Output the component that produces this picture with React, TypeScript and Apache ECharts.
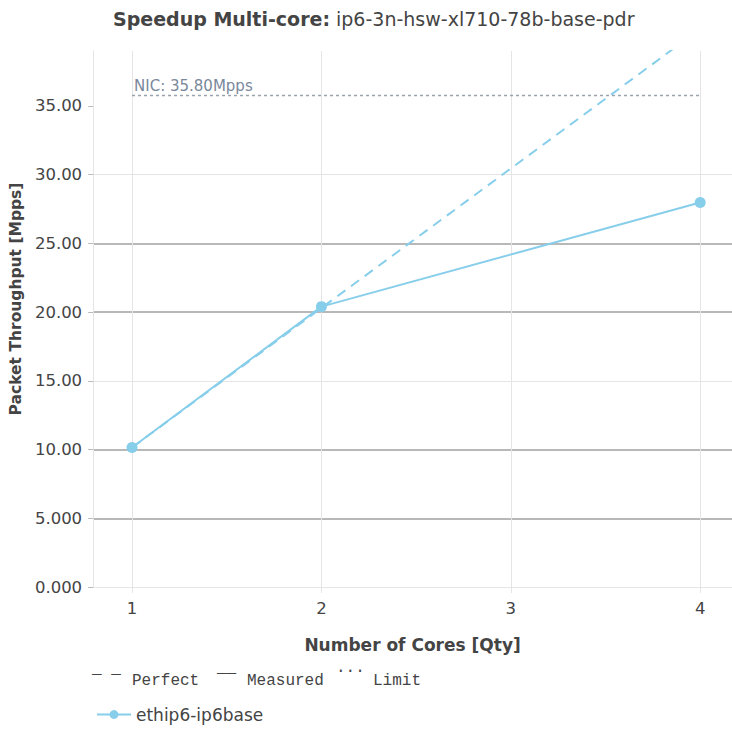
import React, { useEffect, useRef } from "react";
import * as echarts from "echarts";

const cores = [1, 2, 4];
const measured = [10.15, 20.4, 27.98];
const perfectCores = [1, 2, 3, 4];
const perfect = [10.15, 20.3, 30.45, 40.6];
const nicLimit = 35.8;
const yTicks = [0, 5, 10, 15, 20, 25, 30, 35];
const xTicks = [1, 2, 3, 4];
const seriesName = "ethip6-ip6base";

const COLOR = "#87CEEB";
const FONT = "DejaVu Sans, sans-serif";
const MONO = "Liberation Mono, monospace";

export default function App() {
  const ref = useRef<HTMLDivElement>(null);
  useEffect(() => {
    if (!ref.current) return;
    const chart = echarts.init(ref.current, null, { renderer: "svg" });
    const yFmt = (v: number) => Number(v).toPrecision(4);
    const yCommon = {
      type: "value",
      min: 0,
      max: 39,
      interval: 5,
    };
    chart.setOption({
      animation: false,
      backgroundColor: "#ffffff",
      textStyle: { fontFamily: FONT },
      title: {
        text: "{b|Speedup Multi-core:} {n|ip6-3n-hsw-xl710-78b-base-pdr}",
        left: 108,
        top: 4,
        textStyle: {
          fontWeight: "normal",
          fontSize: 19,
          rich: {
            b: { fontFamily: FONT, fontSize: 19, fontWeight: "bold", color: "#444" },
            n: { fontFamily: FONT, fontSize: 19, fontWeight: "normal", color: "#444" },
          },
        },
      },
      grid: { left: 91, right: 0, top: 51, bottom: 144, containLabel: false },
      legend: {
        data: [seriesName],
        left: 91,
        top: 701,
        itemWidth: 34,
        itemHeight: 11,
        itemGap: 5,
        textStyle: { fontFamily: FONT, fontSize: 17, color: "#444" },
      },
      xAxis: {
        type: "value",
        min: 0.7947,
        max: 4.168,
        name: "Number of Cores [Qty]",
        nameLocation: "middle",
        nameGap: 49,
        nameTextStyle: { fontFamily: FONT, fontSize: 17, fontWeight: "bold", color: "#444" },
        axisLine: { show: false },
        axisTick: { show: true, customValues: xTicks, length: 6, lineStyle: { color: "#e5e5e5" } },
        axisLabel: {
          customValues: xTicks,
          margin: 13,
          fontFamily: FONT,
          fontSize: 16.5,
          color: "#444",
        },
        splitLine: { show: true, lineStyle: { color: "#e5e5e5", width: 1 } },
      },
      yAxis: [
        {
          ...yCommon,
          name: "Packet Throughput [Mpps]",
          nameLocation: "middle",
          nameGap: 64,
          nameTextStyle: {
            fontFamily: FONT,
            fontSize: 15.5,
            fontWeight: "bold",
            color: "#444",
            padding: [0, 0, 0, 40],
          },
          axisLine: { show: true, lineStyle: { color: "#e5e5e5" } },
          axisTick: { show: true, customValues: yTicks, length: 5, lineStyle: { color: "#bbbbbb" } },
          axisLabel: {
            customValues: yTicks,
            margin: 11,
            formatter: yFmt,
            fontFamily: FONT,
            fontSize: 16.5,
            color: "#444",
          },
          splitLine: { show: true, showMaxLine: false, lineStyle: { color: "#e5e5e5", width: 1 } },
        },
        {
          ...yCommon,
          position: "left",
          axisLine: { show: false },
          axisTick: { show: false, customValues: yTicks },
          axisLabel: { show: false, customValues: yTicks },
          splitLine: {
            show: true,
            showMinLine: false,
            showMaxLine: false,
            lineStyle: { color: ["#b8b8b8", "#b8b8b8", "transparent"], width: 2 },
          },
        },
      ],
      series: [
        {
          name: "Perfect",
          type: "line",
          data: perfectCores.map((c, i) => [c, perfect[i]]),
          showSymbol: false,
          symbol: "none",
          lineStyle: { color: COLOR, width: 2, type: [10, 7] },
          itemStyle: { color: COLOR },
          z: 3,
        },
        {
          name: seriesName,
          type: "line",
          data: cores.map((c, i) => [c, measured[i]]),
          symbol: "circle",
          symbolSize: 11,
          lineStyle: { color: COLOR, width: 2 },
          itemStyle: { color: COLOR },
          z: 4,
          markLine: {
            silent: true,
            symbol: "none",
            lineStyle: { color: "#9aa2ac", width: 1.3, type: [3, 3] },
            label: {
              show: true,
              position: "insideStartTop",
              formatter: "NIC: " + nicLimit.toFixed(2) + "Mpps",
              fontFamily: FONT,
              fontSize: 15,
              color: "#7a889b",
              distance: [2, 1],
            },
            data: [[{ coord: [cores[0], nicLimit] }, { coord: [cores[cores.length - 1], nicLimit] }]],
          },
        },
      ],
      graphic: [
        { type: "text", left: 92, top: 661, style: { text: "_ _", font: `16px ${MONO}`, fill: "#444" } },
        { type: "text", left: 132, top: 673, style: { text: "Perfect", font: `16px ${MONO}`, fill: "#444" } },
        { type: "text", left: 217, top: 660, style: { text: "__", font: `16px ${MONO}`, fill: "#444" } },
        { type: "text", left: 247, top: 673, style: { text: "Measured", font: `16px ${MONO}`, fill: "#444" } },
        { type: "text", left: 336, top: 660, style: { text: "...", font: `16px ${MONO}`, fill: "#444" } },
        { type: "text", left: 373, top: 673, style: { text: "Limit", font: `16px ${MONO}`, fill: "#444" } },
      ],
    });
    return () => chart.dispose();
  }, []);
  return (
    <div
      ref={ref}
      style={{ position: "fixed", left: 0, top: 0, width: 732, height: 731 }}
    />
  );
}
